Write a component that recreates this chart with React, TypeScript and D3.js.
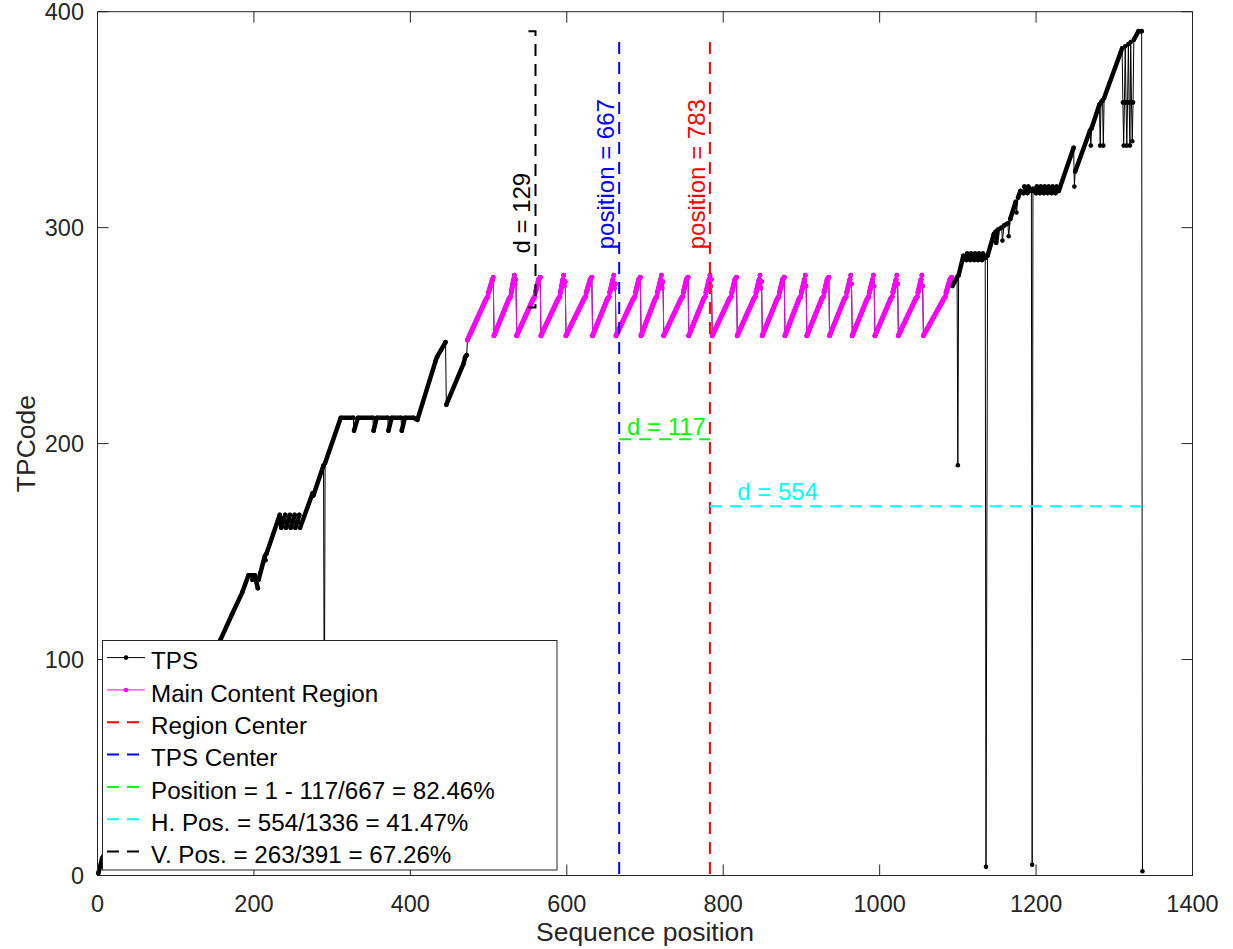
import React from "react";
import * as d3 from "d3";

type Pt = [number, number];

// Axis ticks
const X_TICKS = [0, 200, 400, 600, 800, 1000, 1200, 1400];
const Y_TICKS = [0, 100, 200, 300, 400];

// TPS sequence before the main content region (position, TPCode)
const TPS_HEAD: Pt[] = [
  [1, 1], [6, 8], [40, 32], [80, 60], [120, 85], [157, 109], [172, 121], [185, 131],
  [193, 139], [197, 139], [198, 137], [201, 139], [203, 136], [205, 133], [206, 137],
  [214, 148], [215, 146], [216, 149], [233, 167],
  [235, 161], [240, 167], [241, 161], [246, 167], [247, 161], [252, 167], [253, 161], [258, 167], [259, 161],
  [275, 177], [276, 176], [289, 190], [290, 60], [291, 191], [311, 212],
  [327, 212], [328, 206], [333, 212], [352, 212], [353, 206], [357, 212], [371, 212], [372, 206],
  [376, 212], [388, 212], [389, 206], [393, 212], [404, 212], [409, 211],
  [432, 238], [434, 240], [445, 247], [446, 218], [468, 237], [470, 240], [472, 241],
];

// Main content region: repeating sawtooth between ~250 and ~278
const MAIN_REGION: Pt[] = [
  [473, 248], [497, 267], [499, 268], [500, 270], [505, 276], [506, 277],
  [507, 250], [526, 267], [528, 268], [529, 270], [532, 276], [533, 278], [534, 274], [535, 276],
  [536, 250], [557, 267], [559, 268], [560, 270], [564, 276], [566, 277],
  [567, 250], [589, 267], [591, 268], [592, 270], [595, 276], [596, 278], [597, 273], [598, 275],
  [599, 250], [622, 267], [624, 268], [625, 270], [630, 276], [632, 277],
  [633, 250], [652, 267], [654, 268], [655, 270], [659, 276], [660, 278], [661, 272], [662, 274],
  [663, 250], [685, 267], [687, 268], [688, 270], [692, 276], [694, 277],
  [695, 250], [713, 267], [715, 268], [716, 270], [720, 276], [721, 278], [722, 272], [723, 275],
  [724, 250], [746, 267], [748, 268], [749, 270], [753, 276], [755, 277],
  [756, 250], [775, 267], [777, 268], [778, 270], [782, 276], [783, 278], [784, 273], [785, 276],
  [786, 250], [808, 267], [810, 268], [811, 270], [815, 276], [817, 277],
  [818, 250], [839, 267], [841, 268], [842, 270], [846, 276], [847, 278], [848, 272], [849, 275],
  [850, 250], [869, 267], [871, 268], [872, 270], [876, 276], [878, 277],
  [879, 250], [897, 267], [899, 268], [900, 270], [904, 276], [905, 278], [906, 273],
  [907, 250], [926, 267], [928, 268], [929, 270], [933, 276], [935, 277],
  [936, 250], [955, 267], [957, 268], [958, 270], [962, 276], [963, 278], [964, 274],
  [965, 250], [984, 267], [986, 268], [987, 270], [991, 276], [992, 278], [993, 273],
  [994, 250], [1014, 267], [1016, 268], [1017, 270], [1021, 276], [1022, 278], [1023, 274],
  [1024, 250], [1046, 267], [1048, 268], [1049, 270], [1053, 276], [1054, 278], [1055, 273],
  [1056, 250], [1082, 267], [1084, 268], [1085, 270], [1090, 276], [1092, 277],
];

// TPS sequence after the main content region
const TPS_TAIL: Pt[] = [
  [1093, 273], [1099, 277], [1100, 190], [1101, 278], [1107, 287],
  [1111, 285], [1112, 288], [1116, 285], [1117, 288], [1121, 285], [1122, 288], [1126, 285], [1127, 288],
  [1131, 285], [1132, 288], [1135, 286], [1136, 4], [1138, 287],
  [1146, 297], [1148, 298], [1149, 293], [1151, 299], [1156, 300], [1157, 294], [1159, 301],
  [1164, 302], [1165, 296], [1167, 304], [1174, 312], [1175, 307], [1177, 314], [1180, 317],
  [1184, 316], [1185, 319], [1189, 316], [1190, 319], [1194, 317], [1195, 5], [1196, 318],
  [1200, 316], [1201, 319], [1205, 316], [1206, 319], [1210, 316], [1211, 319], [1215, 316], [1216, 319],
  [1220, 316], [1221, 319], [1225, 316], [1226, 319], [1229, 317],
  [1248, 337], [1249, 319], [1250, 326], [1269, 345], [1270, 338], [1271, 346],
  [1281, 357], [1282, 338], [1283, 358], [1285, 359], [1286, 338], [1287, 360], [1308, 381],
  [1310, 383], [1311, 358], [1312, 338], [1313, 358], [1314, 384], [1315, 358], [1316, 338], [1317, 358],
  [1318, 385], [1319, 358], [1320, 338], [1321, 386], [1322, 358], [1323, 340], [1324, 358],
  [1325, 387], [1331, 391], [1335, 391], [1336, 2],
];

// Annotation values
const TPS_CENTER = 667;
const REGION_CENTER = 783;
const SEQ_LENGTH = 1336;
const CENTER_LINE_TOP = 386;
const POS_D = 117;
const POS_LINE_Y = 202;
const H_D = 554;
const H_LINE_Y = 171;
const V_LOW = 263;
const V_HIGH = 391;
const V_D = 129;
const V_LINE_X = 560;
const V_CAP_X = 551;

const LEGEND_LABELS = [
  "TPS",
  "Main Content Region",
  "Region Center",
  "TPS Center",
  `Position = 1 - ${POS_D}/${TPS_CENTER} = ${((1 - POS_D / TPS_CENTER) * 100).toFixed(2)}%`,
  `H. Pos. = ${H_D}/${SEQ_LENGTH} = ${((H_D / SEQ_LENGTH) * 100).toFixed(2)}%`,
  `V. Pos. = ${V_LOW}/${V_HIGH} = ${((V_LOW / V_HIGH) * 100).toFixed(2)}%`,
];

const W = 1233;
const H = 949;
const FONT = "'Liberation Sans', Arial, Helvetica, sans-serif";
const AXIS_COLOR = "#262626";
const DASH = "12,8";

const x = d3.scaleLinear().domain([0, 1400]).range([97.5, 1192.5]);
const y = d3.scaleLinear().domain([0, 400]).range([875.5, 11.7]);

const lineGen = d3
  .line<Pt>()
  .x((d) => x(d[0]))
  .y((d) => y(d[1]));

// Runs of consecutive sequence positions are drawn as a thick band (dense markers);
// jumps between distant codes stay as a thin connecting line.
function denseRuns(pts: Pt[]): Pt[][] {
  const runs: Pt[][] = [];
  let cur: Pt[] = [];
  for (let i = 1; i < pts.length; i++) {
    const [x0, y0] = pts[i - 1];
    const [x1, y1] = pts[i];
    const dx = x1 - x0;
    const dense = dx >= 2 && Math.abs(y1 - y0) / dx <= 3;
    if (dense) {
      if (cur.length === 0) cur.push(pts[i - 1]);
      cur.push(pts[i]);
    } else if (cur.length) {
      runs.push(cur);
      cur = [];
    }
  }
  if (cur.length) runs.push(cur);
  return runs;
}

function Series({ pts, color, band }: { pts: Pt[]; color: string; band: number }) {
  const runs = denseRuns(pts);
  return (
    <g>
      <path d={lineGen(pts) || ""} fill="none" stroke={color} strokeWidth={1} />
      {runs.map((r, i) => (
        <path
          key={i}
          d={lineGen(r) || ""}
          fill="none"
          stroke={color}
          strokeWidth={band}
          strokeLinecap="round"
          strokeLinejoin="round"
        />
      ))}
      {pts.map((p, i) => (
        <circle key={i} cx={x(p[0])} cy={y(p[1])} r={2.3} fill={color} />
      ))}
    </g>
  );
}

export default function App() {
  const tps = [...TPS_HEAD, ...MAIN_REGION, ...TPS_TAIL];
  const x0 = x(0);
  const x1 = x(1400);
  const yb = y(0);
  const yt = y(400);
  const tick = 11;

  const legendX = 102.5;
  const legendY = 640.5;
  const legendW = 454.5;
  const legendH = 229.5;
  const rowBase = (i: number) => 669.3 + 32.33 * i;
  const legendStyles = [
    { color: "#000000", dash: undefined as string | undefined, marker: true },
    { color: "#ff00ff", dash: undefined, marker: true },
    { color: "#ff0000", dash: DASH, marker: false },
    { color: "#0000ff", dash: DASH, marker: false },
    { color: "#00ff00", dash: DASH, marker: false },
    { color: "#00ffff", dash: DASH, marker: false },
    { color: "#000000", dash: DASH, marker: false },
  ];

  const rotLabel = (px: number, val: number, text: string, color: string) => {
    const bx = x(px) - 5;
    const by = y(val);
    return (
      <text
        x={bx}
        y={by}
        transform={`rotate(-90 ${bx} ${by})`}
        fontSize={24}
        fill={color}
        fontFamily={FONT}
      >
        {text}
      </text>
    );
  };

  return (
    <svg
      width={W}
      height={H}
      style={{ position: "absolute", left: 0, top: 0, background: "#fff" }}
      xmlns="http://www.w3.org/2000/svg"
    >
      <rect x={0} y={0} width={W} height={H} fill="#fff" />

      {/* data series */}
      <Series pts={tps} color="#000000" band={4.5} />
      <Series pts={MAIN_REGION} color="#ff00ff" band={5} />

      {/* center markers */}
      <line x1={x(REGION_CENTER)} x2={x(REGION_CENTER)} y1={y(CENTER_LINE_TOP)} y2={y(0)}
        stroke="#ff0000" strokeWidth={2} strokeDasharray={DASH} />
      <line x1={x(TPS_CENTER)} x2={x(TPS_CENTER)} y1={y(CENTER_LINE_TOP)} y2={y(0)}
        stroke="#0000ff" strokeWidth={2} strokeDasharray={DASH} />
      <line x1={x(TPS_CENTER)} x2={x(REGION_CENTER)} y1={y(POS_LINE_Y)} y2={y(POS_LINE_Y)}
        stroke="#00ff00" strokeWidth={2} strokeDasharray={DASH} />
      <line x1={x(REGION_CENTER)} x2={x(SEQ_LENGTH)} y1={y(H_LINE_Y)} y2={y(H_LINE_Y)}
        stroke="#00ffff" strokeWidth={2} strokeDasharray={DASH} />
      <path
        d={`M${x(V_CAP_X)},${y(V_HIGH)}L${x(V_LINE_X)},${y(V_HIGH)}L${x(V_LINE_X)},${y(V_LOW)}L${x(V_CAP_X)},${y(V_LOW)}`}
        fill="none" stroke="#000000" strokeWidth={2} strokeDasharray={DASH} />

      {/* annotation texts */}
      {rotLabel(TPS_CENTER, 290, `position = ${TPS_CENTER}`, "#0000ff")}
      {rotLabel(REGION_CENTER, 290, `position = ${REGION_CENTER}`, "#ff0000")}
      {rotLabel(V_LINE_X, 288, `d = ${V_D}`, "#000000")}
      <text x={x(677)} y={y(POS_LINE_Y) - 4} fontSize={24} fill="#00ff00" fontFamily={FONT}>
        {`d = ${POS_D}`}
      </text>
      <text x={x(818)} y={y(H_LINE_Y) - 6} fontSize={24} fill="#00ffff" fontFamily={FONT}>
        {`d = ${H_D}`}
      </text>

      {/* axes box */}
      <rect x={x0} y={yt} width={x1 - x0} height={yb - yt} fill="none" stroke={AXIS_COLOR} strokeWidth={1} />
      {X_TICKS.map((t) => (
        <g key={`x${t}`}>
          <line x1={x(t)} x2={x(t)} y1={yb} y2={yb - tick} stroke={AXIS_COLOR} />
          <line x1={x(t)} x2={x(t)} y1={yt} y2={yt + tick} stroke={AXIS_COLOR} />
          <text x={x(t)} y={912} textAnchor="middle" fontSize={23.5} fill={AXIS_COLOR} fontFamily={FONT}>
            {t}
          </text>
        </g>
      ))}
      {Y_TICKS.map((t) => (
        <g key={`y${t}`}>
          <line x1={x0} x2={x0 + tick} y1={y(t)} y2={y(t)} stroke={AXIS_COLOR} />
          <line x1={x1} x2={x1 - tick} y1={y(t)} y2={y(t)} stroke={AXIS_COLOR} />
          <text x={84} y={y(t) + 8.4} textAnchor="end" fontSize={23.5} fill={AXIS_COLOR} fontFamily={FONT}>
            {t}
          </text>
        </g>
      ))}
      <text x={(x0 + x1) / 2} y={941} textAnchor="middle" fontSize={26.5} fill={AXIS_COLOR} fontFamily={FONT}>
        Sequence position
      </text>
      <text
        x={35}
        y={(yb + yt) / 2}
        transform={`rotate(-90 35 ${(yb + yt) / 2})`}
        textAnchor="middle"
        fontSize={26.5}
        fill={AXIS_COLOR}
        fontFamily={FONT}
      >
        TPCode
      </text>

      {/* legend */}
      <rect x={legendX} y={legendY} width={legendW} height={legendH} fill="#fff" stroke={AXIS_COLOR} strokeWidth={1} />
      {LEGEND_LABELS.map((label, i) => {
        const st = legendStyles[i];
        const ly = rowBase(i) - 11.7;
        return (
          <g key={label}>
            <line x1={107} x2={145} y1={ly} y2={ly} stroke={st.color}
              strokeWidth={st.dash ? 2 : 1} strokeDasharray={st.dash} />
            {st.marker && <circle cx={126} cy={ly} r={2.3} fill={st.color} />}
            <text x={151} y={rowBase(i)} fontSize={24.2} fill="#000" fontFamily={FONT}>
              {label}
            </text>
          </g>
        );
      })}
    </svg>
  );
}
